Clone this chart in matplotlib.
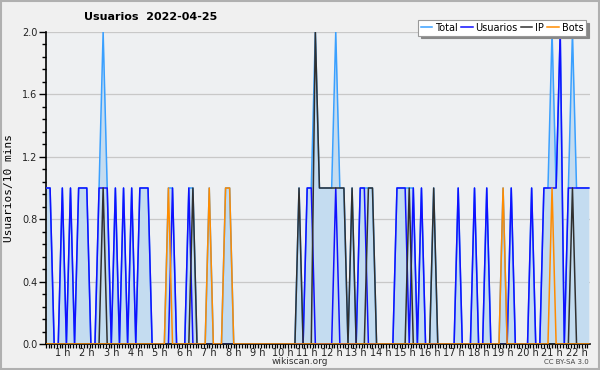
import numpy as np
import matplotlib
matplotlib.use("Agg")
import matplotlib.pyplot as plt
from matplotlib.ticker import FixedLocator, MultipleLocator

# 10-minute bins, first bin at 00:20
start_hour = 1 / 3
bin_hours = 1 / 6

total = [
    1, 1, 0, 0, 1, 0, 1, 0, 1, 1,
    1, 0, 0, 1, 2, 1, 0, 1, 0, 1,
    0, 1, 0, 1, 1, 1, 0, 0, 0, 0,
    1, 1, 0, 0, 0, 1, 1, 0, 0, 0,
    1, 0, 0, 0, 1, 1, 0, 0, 0, 0,
    0, 0, 0, 0, 0, 0, 0, 0, 0, 0,
    0, 0, 1, 0, 1, 1, 2, 1, 1, 1,
    1, 2, 1, 1, 0, 1, 0, 1, 1, 1,
    1, 0, 0, 0, 0, 0, 1, 1, 1, 1,
    1, 0, 1, 0, 0, 1, 0, 0, 0, 0,
    0, 1, 0, 0, 0, 1, 0, 0, 1, 0,
    0, 0, 1, 0, 1, 0, 0, 0, 0, 1,
    0, 0, 1, 1, 2, 1, 2, 0, 1, 2,
    1, 1, 1, 1,
]
usuarios = [
    1, 1, 0, 0, 1, 0, 1, 0, 1, 1,
    1, 0, 0, 1, 1, 1, 0, 1, 0, 1,
    0, 1, 0, 1, 1, 1, 0, 0, 0, 0,
    0, 1, 0, 0, 0, 1, 0, 0, 0, 0,
    0, 0, 0, 0, 0, 0, 0, 0, 0, 0,
    0, 0, 0, 0, 0, 0, 0, 0, 0, 0,
    0, 0, 0, 0, 1, 1, 0, 0, 0, 0,
    0, 1, 0, 0, 0, 0, 0, 1, 1, 0,
    0, 0, 0, 0, 0, 0, 1, 1, 1, 0,
    1, 0, 1, 0, 0, 0, 0, 0, 0, 0,
    0, 1, 0, 0, 0, 1, 0, 0, 1, 0,
    0, 0, 0, 0, 1, 0, 0, 0, 0, 1,
    0, 0, 1, 1, 1, 1, 2, 0, 1, 1,
    1, 1, 1, 1,
]
ip = [
    0, 0, 0, 0, 0, 0, 0, 0, 0, 0,
    0, 0, 0, 0, 1, 0, 0, 0, 0, 0,
    0, 0, 0, 0, 0, 0, 0, 0, 0, 0,
    0, 0, 0, 0, 0, 0, 1, 0, 0, 0,
    0, 0, 0, 0, 0, 0, 0, 0, 0, 0,
    0, 0, 0, 0, 0, 0, 0, 0, 0, 0,
    0, 0, 1, 0, 0, 0, 2, 1, 1, 1,
    1, 1, 1, 1, 0, 1, 0, 0, 0, 1,
    1, 0, 0, 0, 0, 0, 0, 0, 0, 1,
    0, 0, 0, 0, 0, 1, 0, 0, 0, 0,
    0, 0, 0, 0, 0, 0, 0, 0, 0, 0,
    0, 0, 0, 0, 0, 0, 0, 0, 0, 0,
    0, 0, 0, 0, 0, 0, 0, 0, 0, 1,
    0, 0, 0, 0,
]
bots = [
    0, 0, 0, 0, 0, 0, 0, 0, 0, 0,
    0, 0, 0, 0, 0, 0, 0, 0, 0, 0,
    0, 0, 0, 0, 0, 0, 0, 0, 0, 0,
    1, 0, 0, 0, 0, 0, 0, 0, 0, 0,
    1, 0, 0, 0, 1, 1, 0, 0, 0, 0,
    0, 0, 0, 0, 0, 0, 0, 0, 0, 0,
    0, 0, 0, 0, 0, 0, 0, 0, 0, 0,
    0, 0, 0, 0, 0, 0, 0, 0, 0, 0,
    0, 0, 0, 0, 0, 0, 0, 0, 0, 0,
    0, 0, 0, 0, 0, 0, 0, 0, 0, 0,
    0, 0, 0, 0, 0, 0, 0, 0, 0, 0,
    0, 0, 1, 0, 0, 0, 0, 0, 0, 0,
    0, 0, 0, 0, 1, 0, 0, 0, 0, 0,
    0, 0, 0, 0,
]
hour_labels = [f"{h} h" for h in range(1, 23)]

x = start_hour + np.arange(len(total)) * bin_hours

fig = plt.figure(figsize=(6, 3.7), dpi=100, facecolor="#f0f0f0")
ax = fig.add_axes([46 / 600, 1 - 344 / 370, 544 / 600, 312 / 370])
ax.set_facecolor("#eef0f2")

ax.fill_between(x, total, 0, color="#c4dcf0", lw=0, zorder=1)
ax.plot(x, total, color="#3aa0ff", lw=1.1, label="Total", zorder=3)
ax.plot(x, usuarios, color="#1010ff", lw=1.1, label="Usuarios", zorder=4)
ax.plot(x, ip, color="#303030", lw=1.1, label="IP", zorder=5)
ax.plot(x, bots, color="#ff8c00", lw=1.1, label="Bots", zorder=6)

ax.set_xlim(start_hour, start_hour + 133.3 * bin_hours)
ax.set_ylim(0, 2.0)

ax.xaxis.set_major_locator(FixedLocator(range(1, 23)))
ax.set_xticklabels(hour_labels)
ax.xaxis.set_minor_locator(MultipleLocator(1 / 9))
ax.yaxis.set_major_locator(MultipleLocator(0.4))
ax.yaxis.set_minor_locator(MultipleLocator(0.08))
ax.yaxis.set_major_formatter(matplotlib.ticker.FormatStrFormatter("%.1f"))

ax.tick_params(axis="both", which="major", direction="out", width=1,
               labelsize=7, colors="black", labelcolor="#222222")
ax.tick_params(axis="x", which="major", length=3, pad=0)
ax.tick_params(axis="x", which="minor", direction="out", length=3, width=0.9)
ax.tick_params(axis="y", which="major", length=5, pad=1)
ax.tick_params(axis="y", which="minor", direction="out", length=3, width=1)

ax.grid(axis="y", which="major", color="#c8c8c8", lw=0.9, zorder=0)
ax.set_axisbelow(True)
for side in ["top", "right"]:
    ax.spines[side].set_visible(False)
ax.spines["left"].set_linewidth(1.2)
ax.spines["bottom"].set_linewidth(1.2)

ax.set_ylabel("Usuarios/10 mins", family="DejaVu Sans Mono", fontsize=8, labelpad=6)

fig.text(151 / 600, 1 - 17 / 370, "Usuarios  2022-04-25", ha="center", va="center",
         fontsize=8, fontweight="bold")
fig.text(300 / 600, 1 - 362 / 370, "wikiscan.org", ha="center", va="center",
         fontsize=6.5, color="#333333")
fig.text(589 / 600, 1 - 362 / 370, "CC BY-SA 3.0", ha="right", va="center",
         fontsize=5, color="#444444")

leg = fig.legend(loc="upper right", bbox_to_anchor=(591 / 600, 1 - 15 / 370), ncol=4,
                 fontsize=7, handlelength=1.2, handletextpad=0.3, columnspacing=0.3,
                 borderpad=0.3, fancybox=False, shadow={"color": "#888888", "alpha": 1},
                 framealpha=1, edgecolor="#999999")
leg.get_frame().set_linewidth(0.8)

# outer border of the image
fig.patches.append(plt.Rectangle((0.002, 0.003), 0.996, 0.994, transform=fig.transFigure,
                                 fill=False, edgecolor="#b0b0b0", lw=1.5))

fig.savefig("out.png", dpi=100, facecolor=fig.get_facecolor())
